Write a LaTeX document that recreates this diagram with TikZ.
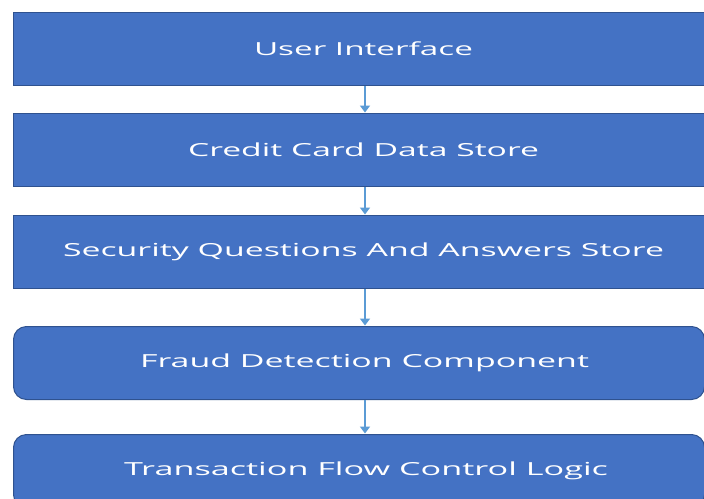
\documentclass[tikz,border=0pt]{standalone}
\usepackage{fontspec}
\setmainfont{Open Sans}
\usetikzlibrary{arrows.meta}
\definecolor{boxfill}{HTML}{4472C4}
\definecolor{boxline}{HTML}{2F528F}
\definecolor{arrowblue}{HTML}{5B9BD5}
% stretch a label horizontally to a given width (in pt)
\newlength\labelw
\newcommand\stretchto[2]{\settowidth\labelw{#2}\pgfmathsetmacro\labelsx{#1/\labelw}\scalebox{\labelsx}[1]{#2}}
\tikzset{
  stage/.style={draw=boxline, line width=1pt, fill=boxfill, text=white,
    minimum height=73pt, anchor=north west, inner sep=0pt,
    font=\fontsize{18}{20}\selectfont},
  squarestage/.style={stage, minimum width=700pt},
  roundstage/.style={stage, minimum width=691pt, rounded corners=13pt},
  flow/.style={draw=arrowblue, line width=2.2pt, -{Triangle[width=10pt,length=7pt]}, shorten >=0.5pt}
}
\begin{document}
\begin{tikzpicture}[x=1pt, y=-1pt]
  \useasboundingbox (0,0) rectangle (704,498);
  \clip (0,0) rectangle (704,498);
  \fill[white] (0,0) rectangle (704,498);
  \node[squarestage] (ui) at (13,12) {\stretchto{219}{User Interface}};
  \node[squarestage] (cc) at (13,113) {\stretchto{351}{Credit Card Data Store}};
  \node[squarestage] (sq) at (13,215) {\stretchto{601}{Security Questions And Answers Store}};
  \node[roundstage] (fd) at (13,326) {\hspace{11pt}\stretchto{449}{Fraud Detection Component}};
  \node[roundstage] (tf) at (13,434) {\hspace{14pt}\stretchto{484}{Transaction Flow Control Logic}};
  \coordinate (axis) at (365,0);
  \draw[flow] (ui.south -| axis) -- (cc.north -| axis);
  \draw[flow] (cc.south -| axis) -- (sq.north -| axis);
  \draw[flow] (sq.south -| axis) -- (fd.north -| axis);
  \draw[flow] (fd.south -| axis) -- (tf.north -| axis);
\end{tikzpicture}
\end{document}
